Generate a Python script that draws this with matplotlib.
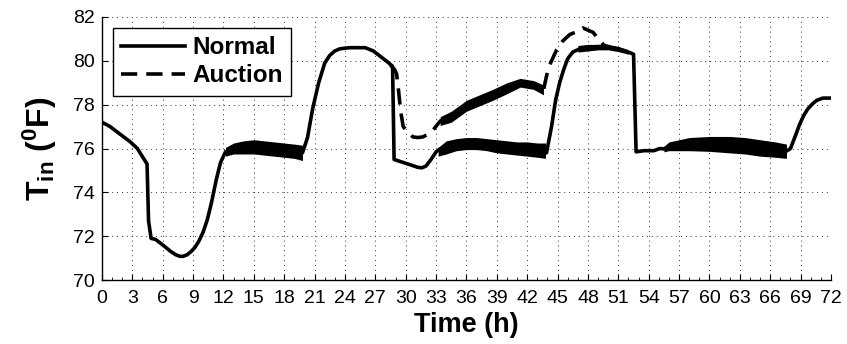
import matplotlib
matplotlib.use("Agg")
import matplotlib.pyplot as plt
from matplotlib.ticker import MultipleLocator

plt.rcParams['font.family'] = ['Liberation Sans', 'DejaVu Sans']
plt.rcParams['mathtext.fontset'] = 'custom'
plt.rcParams['mathtext.rm'] = 'Liberation Sans'
plt.rcParams['mathtext.bf'] = 'Liberation Sans:bold'
plt.rcParams['mathtext.it'] = 'Liberation Sans:italic'

# ---- data (hours, degF) ----
normal_t = [0, 0.8, 1.8, 2.8, 3.5, 4.1, 4.45, 4.6, 4.85, 5.3, 6.0, 6.8, 7.3, 7.7, 8.0, 8.4, 8.8, 9.2,
            9.6, 10.0, 10.4, 10.8, 11.3, 11.7, 12.2, 13, 15, 17, 19, 19.8,
            20.3, 20.8, 21.4, 22.0, 22.5, 23.0, 23.5, 24.5, 26.0, 26.8, 27.5, 28.2, 28.7,
            28.85, 29.5, 30.5, 31.2, 31.6, 32.0, 32.5, 33.0, 33.3, 34, 36, 38, 40, 42, 43.8,
            43.9, 44.4, 44.8, 45.2, 45.6, 46.0, 46.5, 47.2, 48, 49, 50, 51, 52, 52.5,
            52.75, 53.5, 54.5, 55.1, 55.5, 56, 58, 60, 62, 64, 66, 67.6,
            68.0, 68.5, 68.9, 69.3, 69.7, 70.2, 70.6, 71.2, 72]
normal_v = [77.2, 77.0, 76.65, 76.3, 76.0, 75.55, 75.3, 72.7, 71.9, 71.85, 71.6, 71.3, 71.15, 71.08, 71.08, 71.15, 71.3, 71.5,
            71.8, 72.2, 72.75, 73.5, 74.6, 75.35, 75.85, 76.0, 76.07, 75.97, 75.88, 75.8,
            76.5, 77.8, 79.0, 79.9, 80.25, 80.45, 80.55, 80.6, 80.6, 80.45, 80.2, 79.95, 79.75,
            75.5, 75.4, 75.25, 75.14, 75.12, 75.2, 75.5, 75.85, 75.95, 76.05, 76.22, 76.18, 76.05, 75.97, 75.9,
            75.8, 77.0, 78.2, 79.0, 79.6, 80.1, 80.4, 80.55, 80.6, 80.65, 80.65, 80.55, 80.4, 80.3,
            75.85, 75.9, 75.9, 76.0, 75.98, 76.1, 76.2, 76.2, 76.17, 76.08, 75.97, 75.88,
            76.0, 76.6, 77.1, 77.5, 77.8, 78.05, 78.2, 78.3, 78.3]

# oscillation envelopes of the Normal trace
band1_t = [12.2, 13, 14, 15, 16, 17, 18, 19, 19.8]
band1_hi = [76.05, 76.25, 76.35, 76.4, 76.35, 76.3, 76.25, 76.2, 76.15]
band1_lo = [75.65, 75.75, 75.75, 75.75, 75.7, 75.65, 75.6, 75.55, 75.45]
band2_t = [33.2, 34, 35, 36, 37, 38, 39, 40, 41, 42, 43, 43.8]
band2_hi = [76.05, 76.35, 76.45, 76.5, 76.5, 76.45, 76.4, 76.35, 76.3, 76.3, 76.25, 76.25]
band2_lo = [75.65, 75.75, 75.9, 75.95, 75.95, 75.9, 75.8, 75.75, 75.7, 75.65, 75.6, 75.55]
band3_t = [55.5, 56, 57, 58, 60, 62, 63.5, 65, 66.5, 67.6]
band3_hi = [76.1, 76.3, 76.4, 76.5, 76.55, 76.55, 76.5, 76.4, 76.3, 76.2]
band3_lo = [75.85, 75.9, 75.9, 75.9, 75.87, 75.8, 75.75, 75.65, 75.6, 75.55]
band4_t = [47.0, 48, 49, 50, 51, 52]
band4_hi = [80.7, 80.75, 80.75, 80.72, 80.65, 80.5]
band4_lo = [80.4, 80.45, 80.5, 80.5, 80.42, 80.3]

auction_t = [28.5, 28.9, 29.1, 29.3, 29.5, 29.75, 30.2, 30.7, 31.2, 31.7, 32.2, 32.7, 33.4,
             34.5, 36.0, 37.3, 38.6, 40.0, 41.3, 42.6, 43.6, 43.9, 44.2, 44.9, 45.5,
             46.2, 47.0, 47.5, 48.0, 48.5, 49.2, 49.6, 50.0]
auction_v = [79.8, 79.6, 79.4, 78.6, 77.7, 77.0, 76.75, 76.53, 76.5, 76.53, 76.65, 76.84, 77.25,
             77.45, 77.95, 78.2, 78.45, 78.75, 79.0, 78.9, 78.65, 79.3, 79.8, 80.5, 80.9,
             81.2, 81.35, 81.5, 81.4, 81.3, 80.9, 80.7, 80.65]
auction_band_t = [33.4, 34.5, 36.0, 37.3, 38.6, 40.0, 41.3, 42.6, 43.6]
auction_band_hi = [77.45, 77.7, 78.2, 78.45, 78.7, 79.0, 79.2, 79.1, 78.9]
auction_band_lo = [77.05, 77.2, 77.7, 77.95, 78.2, 78.5, 78.8, 78.7, 78.45]

xticks = list(range(0, 73, 3))
yticks = [70, 72, 74, 76, 78, 80, 82]

fig = plt.figure(figsize=(8.47, 3.44), dpi=100)
ax = fig.add_axes([0.1204, 0.186, 0.8607, 0.7646])

lw = 2.6
ax.plot(auction_t, auction_v, color='k', lw=lw, linestyle=(0, (4.5, 2.5)), label='Auction', zorder=3)
ax.fill_between(auction_band_t, auction_band_lo, auction_band_hi, color='k', lw=0, zorder=3)
ax.plot(normal_t, normal_v, color='k', lw=lw, solid_joinstyle='round', label='Normal', zorder=4)
for bt, bl, bh in [(band1_t, band1_lo, band1_hi), (band2_t, band2_lo, band2_hi),
                   (band3_t, band3_lo, band3_hi), (band4_t, band4_lo, band4_hi)]:
    ax.fill_between(bt, bl, bh, color='k', lw=0, zorder=4)

ax.set_xlim(0, 72)
ax.set_ylim(70, 82)
ax.set_xticks(xticks)
ax.set_yticks(yticks)
ax.xaxis.set_minor_locator(MultipleLocator(1))
ax.tick_params(axis='both', which='major', direction='in', length=4, width=0.8, labelsize=14)
ax.tick_params(axis='x', which='major', pad=7)
ax.tick_params(axis='y', which='major', pad=5)
ax.tick_params(axis='x', which='minor', direction='in', length=2, width=0.6)
for s in ['top', 'right']:
    ax.spines[s].set_visible(False)
for s in ['left', 'bottom']:
    ax.spines[s].set_linewidth(1.0)
ax.grid(True, which='major', color='#333333', linestyle=(0, (1, 4)), linewidth=0.7)
ax.set_axisbelow(True)

ax.set_xlabel('Time (h)', fontsize=19.5, fontweight='bold', labelpad=4)
ax.set_ylabel(r'$\mathbf{T_{in}}$ $\mathbf{(^{0}F)}$', fontsize=23, labelpad=10)

handles, labels = ax.get_legend_handles_labels()
order = [1, 0]
leg = ax.legend([handles[i] for i in order], [labels[i] for i in order],
                loc='upper left', prop={'weight': 'bold', 'size': 17.5},
                frameon=True, fancybox=False, edgecolor='k', framealpha=1,
                handlelength=2.6, handletextpad=0.3, borderpad=0.35,
                labelspacing=0.2, borderaxespad=0.45)
leg.get_frame().set_linewidth(1.0)

fig.savefig('out.png', dpi=100)
